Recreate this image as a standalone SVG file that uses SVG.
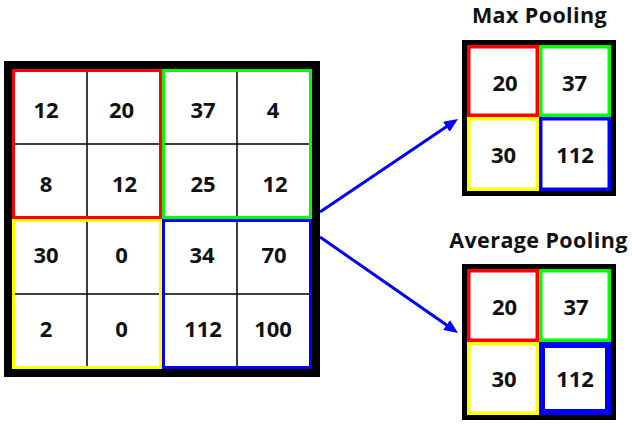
<svg xmlns="http://www.w3.org/2000/svg" width="632" height="425" viewBox="0 0 632 425">
<style>
.n{font-family:"Open Sans","Liberation Sans",sans-serif;font-weight:bold;font-size:22px;text-anchor:middle;fill:#111}
.t{font-family:"Open Sans","Liberation Sans",sans-serif;font-weight:bold;font-size:21.5px;letter-spacing:0.4px;text-anchor:middle;fill:#111}
.frame{fill:#fff;stroke:#000}
.box{fill:none}
.r{stroke:#ff0000}.g{stroke:#00ff00}.y{stroke:#ffff00}.b{stroke:#0000ff}
.grid{stroke:#000;stroke-width:1.5}
.arrow{stroke:#0000ff;stroke-width:3;fill:none}
</style>
<defs>
<marker id="ah" markerUnits="userSpaceOnUse" markerWidth="14" markerHeight="12" refX="4" refY="6" orient="auto">
<path d="M0,0 L14,6 L0,12 z" fill="#0000ff"/>
</marker>
</defs>
<g id="input-grid">
<rect class="frame" x="8" y="65" width="308" height="308" stroke-width="8"/>
<path class="grid" d="M87,69V369M237,69V369M12,144H312M12,294H312"/>
<rect class="box r" x="13.5" y="70.5" width="147" height="147" stroke-width="3"/>
<rect class="box g" x="163.5" y="70.5" width="147" height="147" stroke-width="3"/>
<rect class="box y" x="13.5" y="220.5" width="147" height="147" stroke-width="3"/>
<rect class="box b" x="163.5" y="220.5" width="147" height="147" stroke-width="3"/>
<text class="n" x="46" y="118">12</text>
<text class="n" x="121.5" y="118">20</text>
<text class="n" x="203" y="118">37</text>
<text class="n" x="273" y="118">4</text>
<text class="n" x="46" y="192">8</text>
<text class="n" x="124.5" y="192">12</text>
<text class="n" x="203" y="192">25</text>
<text class="n" x="275" y="192">12</text>
<text class="n" x="46" y="263">30</text>
<text class="n" x="121.5" y="263">0</text>
<text class="n" x="202" y="263">34</text>
<text class="n" x="274" y="263">70</text>
<text class="n" x="46" y="337">2</text>
<text class="n" x="121.5" y="337">0</text>
<text class="n" x="203" y="337">112</text>
<text class="n" x="273" y="337">100</text>
</g>
<g id="max-pooling">
<text class="t" x="539.5" y="23">Max Pooling</text>
<rect class="frame" x="464.5" y="42.5" width="149" height="151" stroke-width="5"/>
<rect class="box r" x="468.75" y="46.75" width="68.5" height="68.5" stroke-width="3.5"/>
<rect class="box g" x="540.75" y="46.75" width="68.5" height="68.5" stroke-width="3.5"/>
<rect class="box y" x="468.75" y="118.75" width="68.5" height="70.5" stroke-width="3.5"/>
<rect class="box b" x="540.75" y="118.75" width="68.5" height="70.5" stroke-width="3.5"/>
<text class="n" x="505" y="91">20</text>
<text class="n" x="574.5" y="91">37</text>
<text class="n" x="503.5" y="163">30</text>
<text class="n" x="575" y="163">112</text>
</g>
<g id="average-pooling">
<text class="t" x="538.5" y="248">Average Pooling</text>
<rect class="frame" x="464.5" y="266.5" width="149" height="151" stroke-width="5"/>
<rect class="box r" x="468.75" y="270.75" width="68.5" height="69.5" stroke-width="3.5"/>
<rect class="box g" x="540.75" y="270.75" width="68.5" height="69.5" stroke-width="3.5"/>
<rect class="box y" x="468.75" y="343.75" width="68.5" height="69.5" stroke-width="3.5"/>
<rect class="box b" x="542" y="345" width="66" height="67" stroke-width="6"/>
<text class="n" x="504.5" y="315">20</text>
<text class="n" x="576" y="315">37</text>
<text class="n" x="504" y="387">30</text>
<text class="n" x="575" y="387">112</text>
</g>
<g id="connectors">
<line class="arrow" x1="320" y1="212" x2="449.7" y2="124.6" marker-end="url(#ah)"/>
<line class="arrow" x1="320" y1="237" x2="449.8" y2="327.3" marker-end="url(#ah)"/>
</g>
</svg>
